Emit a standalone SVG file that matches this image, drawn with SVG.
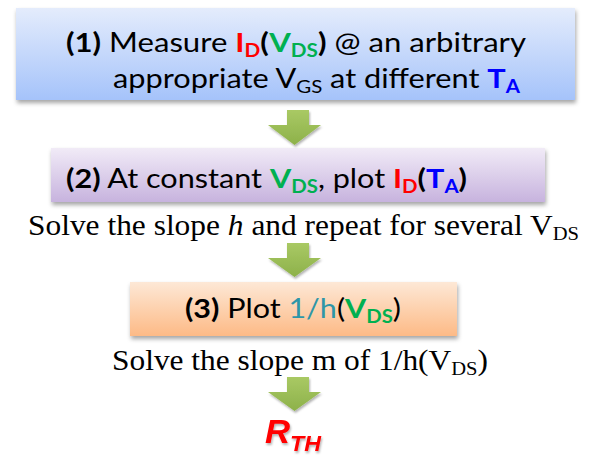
<svg xmlns="http://www.w3.org/2000/svg" width="591" height="457" viewBox="0 0 591 457">
<defs>
<linearGradient id="gBlue" x1="0" y1="0" x2="0" y2="1"><stop offset="0" stop-color="#e4ecfc"/><stop offset="1" stop-color="#a5c3fa"/></linearGradient>
<linearGradient id="gPurple" x1="0" y1="0" x2="0" y2="1"><stop offset="0" stop-color="#f1ebf7"/><stop offset="1" stop-color="#c7b3de"/></linearGradient>
<linearGradient id="gOrange" x1="0" y1="0" x2="0" y2="1"><stop offset="0" stop-color="#fde8d6"/><stop offset="1" stop-color="#fdba86"/></linearGradient>
<linearGradient id="gGreen" x1="0" y1="0" x2="0" y2="1"><stop offset="0" stop-color="#a9c964"/><stop offset="1" stop-color="#8db14a"/></linearGradient>
<filter id="sh" x="-5%" y="-10%" width="110%" height="130%"><feDropShadow dx="1" dy="3" stdDeviation="2" flood-color="#000" flood-opacity="0.35"/></filter>
<filter id="tsh" x="-20%" y="-20%" width="140%" height="140%"><feDropShadow dx="1" dy="2" stdDeviation="1" flood-color="#000" flood-opacity="0.3"/></filter>
</defs>
<style>
.box{font-family:Lato,"Open Sans",sans-serif;font-size:27px;fill:#000}
.b{font-weight:bold}
.sub{font-size:18px}
.red{fill:#ff0000}
.grn{fill:#00b050}
.blu{fill:#0000ff}
.teal{fill:#2e96a8}
.tms{font-family:"Liberation Serif",serif;font-size:29px;fill:#000}
.tsub{font-size:19px}
.arrow{fill:url(#gGreen)}
</style>
<g id="node1">
<rect x="16" y="8" width="559" height="92" fill="url(#gBlue)" filter="url(#sh)"/>
<text class="box" x="66" y="52" textLength="460" lengthAdjust="spacingAndGlyphs"><tspan class="b">(1)</tspan> Measure <tspan class="b red">I<tspan class="sub" dy="5">D</tspan></tspan><tspan class="b" dy="-5">(</tspan><tspan class="b grn">V<tspan class="sub" dy="5">DS</tspan></tspan><tspan class="b" dy="-5">)</tspan> @ an arbitrary</text>
<text class="box" x="113" y="88" textLength="407" lengthAdjust="spacingAndGlyphs">appropriate V<tspan class="sub" dy="5">GS</tspan><tspan dy="-5"> at different </tspan><tspan class="b blu">T<tspan class="sub" dy="5">A</tspan></tspan></text>
</g>
<g id="node2">
<rect x="51" y="148" width="494" height="54" fill="url(#gPurple)" filter="url(#sh)"/>
<text class="box" x="66" y="188" textLength="401" lengthAdjust="spacingAndGlyphs"><tspan class="b">(2)</tspan> At constant <tspan class="b grn">V<tspan class="sub" dy="5">DS</tspan></tspan><tspan dy="-5">, plot </tspan><tspan class="b red">I<tspan class="sub" dy="5">D</tspan></tspan><tspan class="b" dy="-5">(</tspan><tspan class="b blu">T<tspan class="sub" dy="5">A</tspan></tspan><tspan class="b" dy="-5">)</tspan></text>
</g>
<g id="note1">
<text class="tms" x="28" y="235" textLength="551" lengthAdjust="spacingAndGlyphs">Solve the slope <tspan font-style="italic">h</tspan> and repeat for several V<tspan class="tsub" dy="5">DS</tspan></text>
</g>
<g id="node3">
<rect x="130" y="282" width="327" height="54" fill="url(#gOrange)" filter="url(#sh)"/>
<text class="box" x="185" y="318" textLength="216" lengthAdjust="spacingAndGlyphs"><tspan class="b">(3)</tspan> Plot <tspan class="teal">1/h</tspan>(<tspan class="b grn">V<tspan class="sub" dy="5">DS</tspan></tspan><tspan dy="-5">)</tspan></text>
</g>
<g id="note2">
<text class="tms" x="112" y="370" textLength="376" lengthAdjust="spacingAndGlyphs">Solve the slope m of 1/h(V<tspan class="tsub" dy="5">DS</tspan><tspan dy="-5">)</tspan></text>
</g>
<g id="result">
<text x="265" y="443" textLength="56" lengthAdjust="spacingAndGlyphs" font-family="'Liberation Sans',Arial,sans-serif" font-weight="bold" font-style="italic" font-size="33" fill="#ff0000" filter="url(#tsh)">R<tspan font-size="22" dy="8">TH</tspan></text>
</g>
<g id="connectors">
<polygon class="arrow" points="287,110 309,110 309,125 321,125 294.5,145 268,125 287,125" filter="url(#tsh)"/>
<polygon class="arrow" points="287,243 309,243 309,258 321,258 294.5,277 268,258 287,258" filter="url(#tsh)"/>
<polygon class="arrow" points="287,377 309,377 309,392 321,392 294.5,411 268,392 287,392" filter="url(#tsh)"/>
</g>
</svg>
